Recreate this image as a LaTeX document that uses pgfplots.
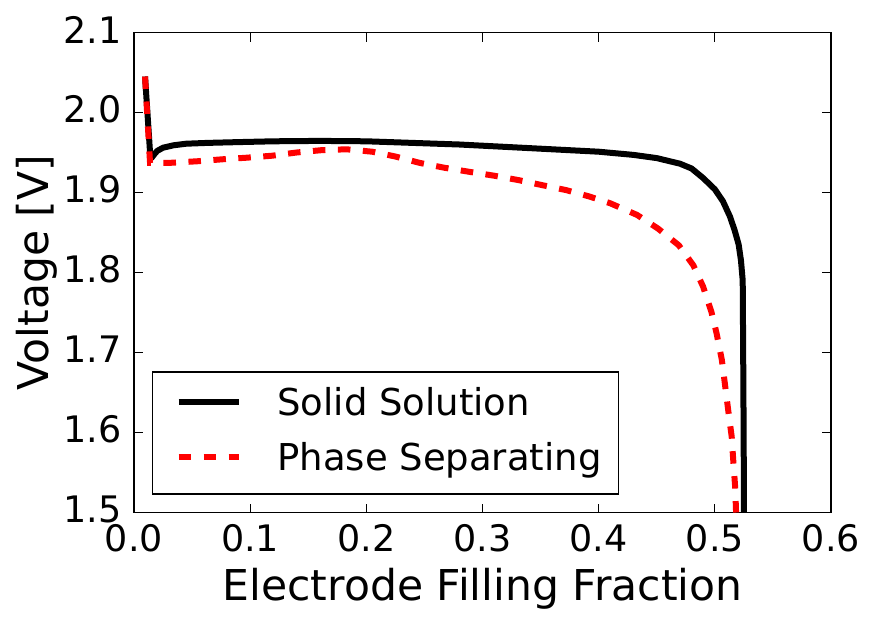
\documentclass[border=0pt]{standalone}
\usepackage{fontspec}
\setmainfont{DejaVu Sans}
\usepackage{pgfplots}
\pgfplotsset{compat=1.18}
\usepackage{pgfplotstable}

% Discharge curves: voltage against electrode filling fraction
\pgfplotstableread{
x      v
0.0095 2.045
0.0140 1.946
0.0150 1.943
0.0170 1.947
0.0200 1.952
0.0250 1.956
0.0340 1.959
0.0450 1.961
0.0630 1.962
0.0900 1.963
0.1200 1.964
0.1600 1.9645
0.2000 1.964
0.2400 1.962
0.2800 1.960
0.3200 1.957
0.3600 1.954
0.4000 1.951
0.4300 1.947
0.4500 1.943
0.4700 1.936
0.4800 1.930
0.4900 1.918
0.5000 1.904
0.5070 1.889
0.5130 1.870
0.5170 1.853
0.5205 1.835
0.5225 1.815
0.5240 1.790
0.5244 1.700
0.5248 1.600
0.5251 1.500
}\solidsol

\pgfplotstableread{
x      v
0.0095 2.045
0.0138 1.937
0.0300 1.937
0.0540 1.939
0.0760 1.9415
0.0970 1.9435
0.1190 1.946
0.1400 1.950
0.1620 1.953
0.1830 1.954
0.2050 1.951
0.2250 1.945
0.2460 1.937
0.2670 1.931
0.2880 1.926
0.3100 1.921
0.3310 1.9155
0.3520 1.909
0.3720 1.903
0.3920 1.895
0.4100 1.8865
0.4330 1.872
0.4510 1.855
0.4690 1.834
0.4815 1.809
0.4900 1.782
0.4970 1.751
0.5015 1.724
0.5060 1.691
0.5090 1.657
0.5115 1.628
0.5145 1.595
0.5160 1.562
0.5175 1.532
0.5183 1.500
}\phasesep

\begin{document}
\begin{tikzpicture}
\useasboundingbox (0,0) rectangle (877pt,624pt);
\begin{axis}[
  at={(134pt,111.5pt)}, anchor=south west,
  width=697pt, height=480pt, scale only axis,
  xmin=0, xmax=0.6, ymin=1.5, ymax=2.1,
  xtick={0,0.1,0.2,0.3,0.4,0.5,0.6},
  xticklabels={0.0,0.1,0.2,0.3,0.4,0.5,0.6},
  ytick={1.5,1.6,1.7,1.8,1.9,2.0,2.1},
  yticklabels={1.5,1.6,1.7,1.8,1.9,2.0,2.1},
  tick align=inside, tick pos=both,
  major tick length=9pt,
  tick style={black, line width=1.2pt},
  axis line style={black, line width=1.8pt},
  tick label style={font=\fontsize{36.5}{42}\selectfont},
  xticklabel style={anchor=north, inner sep=0pt, yshift=-12pt},
  yticklabel style={anchor=east, inner sep=0pt, xshift=-12pt, yshift=3pt},
  xlabel={Electrode Filling Fraction},
  ylabel={Voltage [V]},
  xlabel style={at={(axis description cs:0.5,-0.1823)}, anchor=base,
    font=\fontsize{42.5}{50}\selectfont},
  ylabel style={at={(axis description cs:-0.123,0.5)}, anchor=base,
    font=\fontsize{42.5}{50}\selectfont},
  legend image code/.code={
    \path (0pt,0pt);
    \draw[#1] (6pt,13.4pt) -- (66pt,13.4pt);
  },
  legend style={
    at={(axis description cs:0.0258,0.0365)}, anchor=south west,
    draw=black, line width=1.5pt, fill=white,
    inner xsep=17pt, inner ysep=15.5pt,
    column sep=35.6pt, row sep=19pt,
    font=\fontsize{37}{44}\selectfont,
    nodes={inner sep=0pt, text height=28pt, text depth=8pt},
    cells={anchor=base west},
  },
]
\addplot[black, line width=6pt, line join=round] table[x=x, y=v] {\solidsol};
\addlegendentry{Solid Solution}
\addplot[red, line width=6pt, line join=miter, dash pattern=on 12.5pt off 12.5pt] table[x=x, y=v] {\phasesep};
\addlegendentry{Phase Separating}
\end{axis}
\end{tikzpicture}
\end{document}
